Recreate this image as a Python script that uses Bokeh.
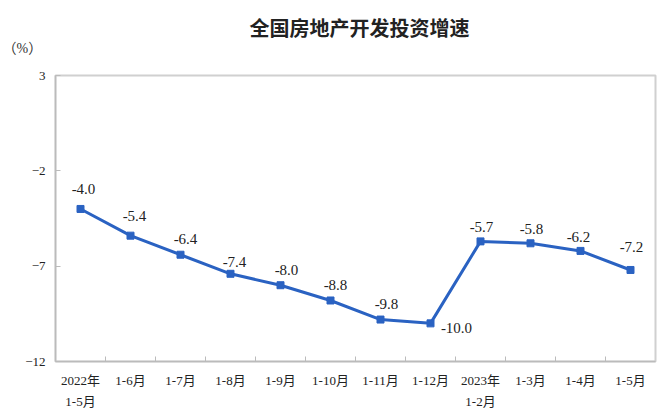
from bokeh.plotting import figure
from bokeh.models import FixedTicker, ColumnDataSource, Range1d, Title
from bokeh.embed import file_html
from bokeh.resources import INLINE
from bokeh.core.properties import value

categories = ["2022年\n1-5月", "1-6月", "1-7月", "1-8月", "1-9月", "1-10月",
              "1-11月", "1-12月", "2023年\n1-2月", "1-3月", "1-4月", "1-5月"]
values = [-4.0, -5.4, -6.4, -7.4, -8.0, -8.8, -9.8, -10.0, -5.7, -5.8, -6.2, -7.2]
y_ticks = [3, -2, -7, -12]
title_text = "全国房地产开发投资增速"
unit_text = "（%）"

# label offsets (screen px) - style only
label_dx = [3, 4, 5, 4, 6, 5, 6, 26, 1, 1, -2, 1]
label_dy = [-20, -20, -16, -12, -15, -15, -16, 5, -14, -14, -14, -23]

SERIF = "'Liberation Serif', 'Noto Sans CJK SC', serif"

xs = [i + 0.5 for i in range(len(categories))]

p = figure(width=659, height=411, output_backend="svg", toolbar_location=None,
           x_range=Range1d(0, len(categories)), y_range=Range1d(-12, 3),
           min_border_left=55, min_border_right=4, min_border_top=75,
           min_border_bottom=49)
p.background_fill_color = "white"
p.border_fill_color = "white"
p.xgrid.visible = False
p.ygrid.visible = False
p.outline_line_color = "#D0D0D0"
p.outline_line_width = 2

xa = p.xaxis[0]
xa.ticker = FixedTicker(ticks=xs, minor_ticks=list(range(1, len(categories))))
xa.major_label_overrides = {x: c for x, c in zip(xs, categories)}
xa.major_tick_in = 0
xa.major_tick_out = 0
xa.minor_tick_in = 5
xa.minor_tick_out = 0
xa.minor_tick_line_color = "#BBBBBB"
xa.axis_line_color = "#BBBBBB"
xa.axis_line_width = 1.5
xa.major_label_text_font = SERIF
xa.major_label_text_font_size = "13px"
xa.major_label_text_color = "#222222"
xa.major_label_standoff = 11
xa.major_label_text_line_height = 1.4

ya = p.yaxis[0]
ya.ticker = FixedTicker(ticks=y_ticks, minor_ticks=[])
ya.major_tick_in = 5
ya.major_tick_out = 0
ya.major_tick_line_color = "#BBBBBB"
ya.axis_line_color = "#BBBBBB"
ya.axis_line_width = 1.5
ya.major_label_text_font = SERIF
ya.major_label_text_font_size = "13px"
ya.major_label_text_color = "#222222"
ya.major_label_standoff = 10

src = ColumnDataSource(dict(x=xs, y=values, lbl=[f"{v:.1f}" for v in values],
                            dx=label_dx, dy=label_dy))
color = "#2A62C2"
p.line("x", "y", source=src, line_color=color, line_width=3)
p.scatter("x", "y", source=src, marker="square", size=7, fill_color=color,
          line_color=color)
p.text("x", "y", text="lbl", source=src, x_offset="dx", y_offset="dy",
       text_font=value("Liberation Serif"), text_font_size="15px",
       text_color="#222222", text_align="center", text_baseline="middle")

p.add_layout(Title(text=unit_text, align="left", offset=-53, standoff=40,
                   text_font=SERIF, text_font_size="14px",
                   text_font_style="normal", text_color="#333333"), "above")
p.add_layout(Title(text=title_text, align="left", offset=194, standoff=-46,
                   text_font="Noto Sans CJK SC", text_font_size="20px",
                   text_font_style="bold", text_color="#222222"), "above")

open("out.html", "w").write(file_html(p, INLINE))
